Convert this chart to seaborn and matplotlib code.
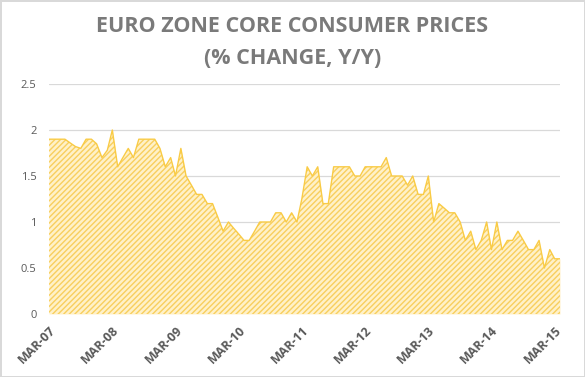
import numpy as np
import pandas as pd
import matplotlib
matplotlib.use("Agg")
import matplotlib.pyplot as plt
import seaborn as sns

# monthly y/y change, Mar-07 .. Apr-15
core_cpi = [
    1.9, 1.9, 1.9, 1.9, 1.86, 1.82, 1.8, 1.9, 1.9, 1.85,
    1.7, 1.78, 2.0, 1.6, 1.7, 1.8, 1.7, 1.9, 1.9, 1.9,
    1.9, 1.8, 1.6, 1.7, 1.5, 1.8, 1.5, 1.4, 1.3, 1.3,
    1.2, 1.2, 1.05, 0.9, 1.0, 0.93, 0.87, 0.8, 0.8, 0.9,
    1.0, 1.0, 1.0, 1.1, 1.1, 1.0, 1.1, 1.0, 1.25, 1.6,
    1.5, 1.6, 1.2, 1.2, 1.6, 1.6, 1.6, 1.6, 1.5, 1.5,
    1.6, 1.6, 1.6, 1.6, 1.7, 1.5, 1.5, 1.5, 1.4, 1.5,
    1.3, 1.3, 1.5, 1.0, 1.2, 1.15, 1.1, 1.1, 1.0, 0.8,
    0.9, 0.7, 0.8, 1.0, 0.7, 1.0, 0.7, 0.8, 0.8, 0.9,
    0.8, 0.7, 0.7, 0.8, 0.5, 0.7, 0.6, 0.6,
]
first_month = "2007-03-01"
y_ticks = [0, 0.5, 1, 1.5, 2, 2.5]
y_tick_labels = ["0", "0.5", "1", "1.5", "2", "2.5"]
title_lines = ["EURO ZONE CORE CONSUMER PRICES", "(% CHANGE, Y/Y)"]

months = pd.date_range(first_month, periods=len(core_cpi), freq="MS")
df = pd.DataFrame({"month": months, "core": core_cpi})

sns.set_theme(style="white")
plt.rcParams["font.family"] = ["Open Sans", "DejaVu Sans"]
plt.rcParams["hatch.linewidth"] = 1.0

fig = plt.figure(figsize=(5.85, 3.77), dpi=100, linewidth=2, edgecolor="#d9d9d9")
ax = fig.add_axes([49 / 585, 63 / 377, 511 / 585, 230 / 377])

ax.fill_between(df["month"], df["core"], color="#FFF1C8", lw=0, zorder=2)
ax.fill_between(df["month"], df["core"], facecolor="none", edgecolor="#F8CF5E",
                hatch="//////", lw=0, zorder=3)
sns.lineplot(data=df, x="month", y="core", color="#F9CB45", lw=1.0, ax=ax, zorder=4)

ax.set_xlim(months[0], months[-1])
ax.set_ylim(0, 2.5)
ax.set_yticks(y_ticks)
ax.set_yticklabels(y_tick_labels)
ax.yaxis.grid(True, color="#d9d9d9", lw=0.9, zorder=1)
ax.set_axisbelow(True)

march = df.loc[df["month"].dt.month == 3, "month"]
ax.set_xticks(march)
ax.set_xticklabels([m.strftime("%b-%y").upper() for m in march],
                   rotation=45, ha="right", rotation_mode="anchor")
ax.tick_params(axis="x", colors="#595959", labelsize=9, pad=7, length=0)
ax.tick_params(axis="y", colors="#595959", labelsize=8, pad=9, length=0)
for lab in ax.get_xticklabels():
    lab.set_fontweight("bold")
ax.set_xlabel("")
ax.set_ylabel("")
sns.despine(ax=ax, left=True, bottom=True)

fig.text(0.5, 1 - 26 / 377, title_lines[0], ha="center", va="center",
         fontsize=15.5, fontweight="bold", color="#7a7a7a")
fig.text(0.5, 1 - 59 / 377, title_lines[1], ha="center", va="center",
         fontsize=15.5, fontweight="bold", color="#7a7a7a")

fig.savefig("out.png", dpi=100)
